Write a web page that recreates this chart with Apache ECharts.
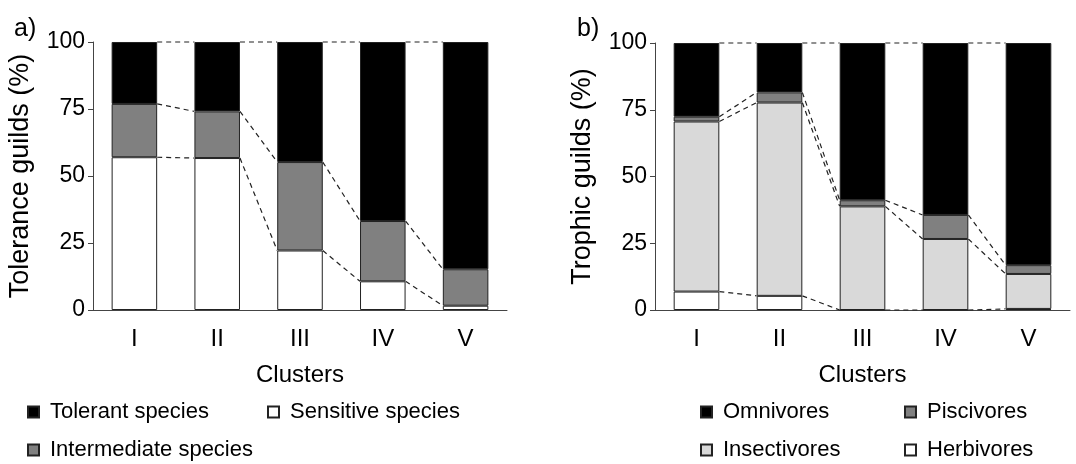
<!DOCTYPE html>
<html>
<head>
<meta charset="utf-8">
<script src="https://cdn.jsdelivr.net/npm/echarts@6/dist/echarts.min.js"></script>
<style>
  html, body { margin: 0; padding: 0; background: #fff; }
  #chart { width: 1076px; height: 464px; }
</style>
</head>
<body>
<div id="chart"></div>
<script>
// clusters on both panels
const clusters = ['I', 'II', 'III', 'IV', 'V'];
const yTicks = [0, 25, 50, 75, 100];

// panel a) tolerance guilds, % per cluster (bottom to top)
const sensitiveSpecies = [57.0, 56.7, 22.2, 10.7, 1.6];
const intermediateSpecies = [19.9, 17.4, 33.0, 22.5, 13.6];
const tolerantSpecies = [23.1, 25.9, 44.8, 66.8, 84.8];

// panel b) trophic guilds, % per cluster (bottom to top)
const herbivores = [6.9, 5.3, 0, 0, 0.4];
const insectivores = [63.7, 72.4, 38.8, 26.6, 13.1];
const piscivores = [1.8, 3.8, 2.3, 9.0, 3.3];
const omnivores = [27.6, 18.5, 58.9, 64.4, 83.2];

const FONT = '"Liberation Sans", Arial, sans-serif';
const BAR_W = 0.55;

// dashed lines joining the stack boundaries of neighbouring bars
function connectorData(layers) {
  const out = [];
  const cum = new Array(clusters.length).fill(0);
  layers.forEach(layer => {
    layer.forEach((v, i) => { cum[i] += v; });
    for (let i = 0; i < clusters.length - 1; i++) {
      out.push([i, cum[i], cum[i + 1]]);
    }
  });
  return out;
}

function renderConnector(params, api) {
  const i = api.value(0);
  const p0 = api.coord([i, api.value(1)]);
  const p1 = api.coord([i, api.value(2)]);
  const step = api.size([1, 0])[0];
  const half = step * BAR_W / 2;
  return {
    type: 'line',
    silent: true,
    shape: { x1: p0[0] + half, y1: p0[1], x2: p0[0] + step - half, y2: p1[1] },
    style: { stroke: '#222', lineWidth: 1.2, lineDash: [5, 4] }
  };
}

function barSeries(name, data, color, idx) {
  return {
    name,
    type: 'bar',
    stack: 'g' + idx,
    xAxisIndex: idx,
    yAxisIndex: idx,
    barWidth: (BAR_W * 100) + '%',
    data,
    itemStyle: { color, borderColor: '#222', borderWidth: 1 },
    emphasis: { disabled: true }
  };
}

function xAxis(idx) {
  return {
    type: 'category',
    gridIndex: idx,
    data: clusters,
    name: 'Clusters',
    nameLocation: 'middle',
    nameGap: 53,
    nameTextStyle: { fontFamily: FONT, fontSize: 24, color: '#000' },
    axisLine: { lineStyle: { color: '#444', width: 1 } },
    axisTick: { show: false },
    axisLabel: { fontFamily: FONT, fontSize: 24, color: '#000', margin: 17 }
  };
}

function yAxis(idx, name) {
  return {
    type: 'value',
    gridIndex: idx,
    min: 0,
    max: 100,
    interval: 25,
    name,
    nameLocation: 'middle',
    nameRotate: 90,
    nameGap: 59,
    nameTextStyle: { fontFamily: FONT, fontSize: 27, color: '#000' },
    axisLine: { show: true, lineStyle: { color: '#444', width: 1 } },
    axisTick: { show: true, length: 5, lineStyle: { color: '#444' } },
    axisLabel: {
      fontFamily: FONT, fontSize: 23, color: '#000', margin: 8,
      formatter: v => (yTicks.includes(v) ? String(v) : '')
    },
    splitLine: { show: false }
  };
}

function legendItem(name, left, top) {
  return {
    data: [name],
    left,
    top,
    padding: 0,
    itemWidth: 11,
    itemHeight: 11,
    icon: 'rect',
    selectedMode: false,
    textStyle: { fontFamily: FONT, fontSize: 22, color: '#000', padding: [0, 0, 0, 6] }
  };
}

const chart = echarts.init(document.getElementById('chart'));

const option = {
  animation: false,
  backgroundColor: '#fff',
  title: [
    { text: 'a)', left: 9, top: 12, textStyle: { fontFamily: FONT, fontSize: 25, fontWeight: 'normal', color: '#000' } },
    { text: 'b)', left: 572, top: 12, textStyle: { fontFamily: FONT, fontSize: 25, fontWeight: 'normal', color: '#000' } }
  ],
  grid: [
    { left: 93, top: 42, width: 414, height: 268 },
    { left: 655, top: 43, width: 415, height: 267 }
  ],
  xAxis: [xAxis(0), xAxis(1)],
  yAxis: [yAxis(0, 'Tolerance guilds (%)'), yAxis(1, 'Trophic guilds (%)')],
  legend: [
    legendItem('Tolerant species', 27, 401),
    legendItem('Sensitive species', 267, 401),
    legendItem('Intermediate species', 27, 439),
    legendItem('Omnivores', 700, 401),
    legendItem('Piscivores', 904, 401),
    legendItem('Insectivores', 700, 439),
    legendItem('Herbivores', 904, 439)
  ],
  series: [
    barSeries('Sensitive species', sensitiveSpecies, '#ffffff', 0),
    barSeries('Intermediate species', intermediateSpecies, '#808080', 0),
    barSeries('Tolerant species', tolerantSpecies, '#000000', 0),
    barSeries('Herbivores', herbivores, '#ffffff', 1),
    barSeries('Insectivores', insectivores, '#d9d9d9', 1),
    barSeries('Piscivores', piscivores, '#808080', 1),
    barSeries('Omnivores', omnivores, '#000000', 1),
    {
      type: 'custom',
      xAxisIndex: 0,
      yAxisIndex: 0,
      renderItem: renderConnector,
      encode: { x: 0, y: [1, 2] },
      data: connectorData([sensitiveSpecies, intermediateSpecies, tolerantSpecies]),
      z: 5
    },
    {
      type: 'custom',
      xAxisIndex: 1,
      yAxisIndex: 1,
      renderItem: renderConnector,
      encode: { x: 0, y: [1, 2] },
      data: connectorData([herbivores, insectivores, piscivores, omnivores]),
      z: 5
    }
  ]
};

chart.setOption(option);
window.addEventListener('resize', () => chart.resize());
</script>
</body>
</html>
